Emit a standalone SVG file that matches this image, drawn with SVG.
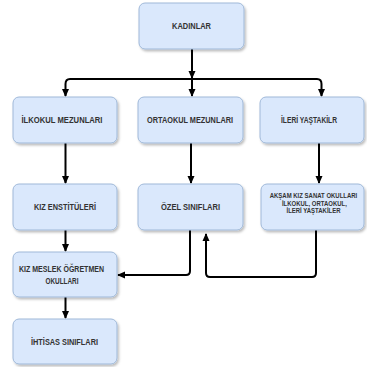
<svg xmlns="http://www.w3.org/2000/svg" width="367" height="367" viewBox="0 0 367 367">
<defs>
<marker id="ah" markerWidth="8" markerHeight="8" refX="7" refY="4" orient="auto" markerUnits="userSpaceOnUse">
<path d="M0,0.5 L8,4 L0,7.5 Z" fill="#000"/>
</marker>
<filter id="sh" x="-10%" y="-10%" width="130%" height="140%">
<feDropShadow dx="1.5" dy="2" stdDeviation="1.2" flood-color="#000" flood-opacity="0.25"/>
</filter>
</defs>
<style>
.box{fill:#dae8fc;stroke:#9fb8d8;stroke-width:1;filter:url(#sh)}
.t{font-family:"Liberation Sans",Arial,sans-serif;font-weight:bold;font-size:8.5px;fill:#333;text-anchor:middle}
.s{font-size:7px}
.c{fill:none;stroke:#000;stroke-width:2;marker-end:url(#ah)}
.cn{fill:none;stroke:#000;stroke-width:2}
</style>
<rect width="367" height="367" fill="#fff"/>
<g id="connectors">
<path class="c" d="M192,49 V78"/>
<path class="cn" d="M70,79 H317"/>
<path class="c" d="M65.5,84 Q65.5,79 70,79 M65.5,84 V96"/>
<path class="c" d="M192,79 V96"/>
<path class="c" d="M317,79 Q321.5,79 321.5,84 V96"/>
<path class="c" d="M65.5,143 V183"/>
<path class="c" d="M191,143 V183"/>
<path class="c" d="M319,143 V183"/>
<path class="c" d="M65.5,230 V251"/>
<path class="c" d="M65.5,297 V318"/>
<path class="c" d="M190,229 V271 Q190,275 186,275 H118"/>
<path class="c" d="M316,229 V273 Q316,277 312,277 H210 Q206,277 206,273 V234"/>
</g>
<g id="kadinlar"><rect class="box" x="139" y="3" width="105" height="46" rx="6"/><text class="t" x="191.5" y="29" textLength="39" lengthAdjust="spacingAndGlyphs">KADINLAR</text></g>
<g id="ilkokul"><rect class="box" x="13" y="97" width="104" height="46" rx="6"/><text class="t" x="62" y="123" textLength="81" lengthAdjust="spacingAndGlyphs">İLKOKUL MEZUNLARI</text></g>
<g id="ortaokul"><rect class="box" x="138" y="97" width="105" height="46" rx="6"/><text class="t" x="190" y="123" textLength="86" lengthAdjust="spacingAndGlyphs">ORTAOKUL MEZUNLARI</text></g>
<g id="ileri"><rect class="box" x="260" y="97" width="104" height="46" rx="6"/><text class="t" x="309" y="123" textLength="56" lengthAdjust="spacingAndGlyphs">İLERİ YAŞTAKİLR</text></g>
<g id="enstitu"><rect class="box" x="13" y="184" width="104" height="46" rx="6"/><text class="t" x="65" y="209.5" textLength="62" lengthAdjust="spacingAndGlyphs">KIZ ENSTİTÜLERİ</text></g>
<g id="ozel"><rect class="box" x="138" y="184" width="105" height="46" rx="6"/><text class="t" x="190.5" y="210" textLength="59" lengthAdjust="spacingAndGlyphs">ÖZEL SINIFLARI</text></g>
<g id="aksam"><rect class="box" x="261" y="184" width="103" height="46" rx="6"/>
<g transform="translate(313.5,0) scale(0.855,1)">
<text class="t s" x="0" y="198.5">AKŞAM KIZ SANAT OKULLARI</text>
<text class="t s" x="1" y="206">İLKOKUL, ORTAOKUL,</text>
<text class="t s" x="0" y="213.5">İLERİ YAŞTAKİLER</text>
</g></g>
<g id="meslek"><rect class="box" x="13" y="252" width="104" height="45" rx="6"/>
<text class="t" x="61.5" y="272.3" textLength="85" lengthAdjust="spacingAndGlyphs">KIZ MESLEK ÖĞRETMEN</text>
<text class="t" x="62" y="284.3" textLength="33" lengthAdjust="spacingAndGlyphs">OKULLARI</text></g>
<g id="ihtisas"><rect class="box" x="13" y="319" width="104" height="45" rx="6"/><text class="t" x="64.5" y="345" textLength="67" lengthAdjust="spacingAndGlyphs">İHTİSAS SINIFLARI</text></g>
</svg>
